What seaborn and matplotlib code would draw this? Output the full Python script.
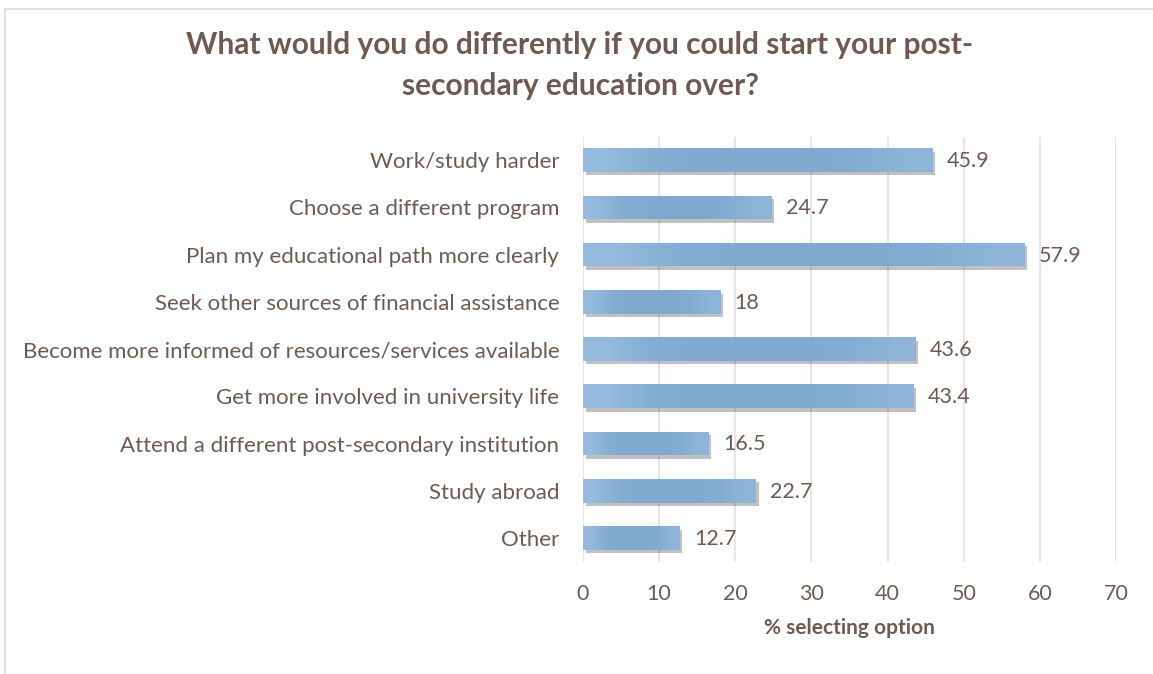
import matplotlib
matplotlib.use("Agg")
import matplotlib.pyplot as plt
import matplotlib.patheffects as pe
from matplotlib.patches import Rectangle
from matplotlib.colors import LinearSegmentedColormap
import seaborn as sns
import pandas as pd
import numpy as np

categories = [
    "Work/study harder",
    "Choose a different program",
    "Plan my educational path more clearly",
    "Seek other sources of financial assistance",
    "Become more informed of resources/services available",
    "Get more involved in university life",
    "Attend a different post-secondary institution",
    "Study abroad",
    "Other",
]
values = [45.9, 24.7, 57.9, 18, 43.6, 43.4, 16.5, 22.7, 12.7]
value_labels = ["45.9", "24.7", "57.9", "18", "43.6", "43.4", "16.5", "22.7", "12.7"]
x_ticks = [0, 10, 20, 30, 40, 50, 60, 70]

title = "What would you do differently if you could start your post-\nsecondary education over?"
xlabel = "% selecting option"

TEXT = "#6e5a52"
BAR = "#82abd2"
GRID = "#e6dedb"

sns.set_theme(style="white")
plt.rcParams["font.family"] = ["Lato", "DejaVu Sans"]

df = pd.DataFrame({"cat": categories, "val": values})

fig = plt.figure(figsize=(11.53, 6.74), dpi=100)
ax = fig.add_axes([0.5056, 0.1668, 0.4625, 0.6306])

sns.barplot(data=df, x="val", y="cat", color=BAR, saturation=1, width=0.5, ax=ax, zorder=3)

# soft horizontal gradient overlay clipped to each bar (lighter at the ends)
grad = np.array([[0.0, 0.75, 0.95, 1.0, 0.95, 0.8, 0.3]])
cmap = LinearSegmentedColormap.from_list("barg", ["#94badd", "#80a9d0"])
for p in ax.patches:
    p.set_edgecolor("none")
    p.set_path_effects([pe.SimplePatchShadow(offset=(2, -2.5), shadow_rgbFace="#333333", alpha=0.3), pe.Normal()])
    x0, y0, w, h = p.get_x(), p.get_y(), p.get_width(), p.get_height()
    im = ax.imshow(grad, cmap=cmap, vmin=0, vmax=1, aspect="auto",
                   extent=(x0, x0 + w, y0 + h, y0), interpolation="bilinear", zorder=3.5)
    im.set_clip_path(p)

ax.set_xlim(0, 70)
ax.set_ylim(8.5, -0.5)
ax.set_xticks(x_ticks)
ax.set_xticklabels([str(t) for t in x_ticks])
ax.xaxis.grid(True, color=GRID, linewidth=1.2, zorder=0)
ax.set_axisbelow(True)
for s in ax.spines.values():
    s.set_visible(False)
ax.tick_params(axis="both", length=0, colors=TEXT, labelsize=15.5)
ax.tick_params(axis="y", labelsize=16)
ax.tick_params(axis="x", pad=16)
ax.tick_params(axis="y", pad=17)
ax.set_ylabel("")
ax.set_xlabel(xlabel, color=TEXT, fontsize=15, fontweight="bold", labelpad=10)

for p, lab in zip(ax.patches, value_labels):
    ax.text(p.get_width() + 1.9, p.get_y() + p.get_height() / 2 + 0.02, lab,
            va="center", ha="left", color=TEXT, fontsize=15.5)

fig.text(0.503, 0.903, title, ha="center", va="center", color=TEXT,
         fontsize=21.5, fontweight="bold", linespacing=1.55)

fig.patches.append(Rectangle((0.004, -0.01), 1.0, 1.0 - 0.003, transform=fig.transFigure,
                             fill=False, edgecolor="#d9d9d9", linewidth=1.2))

fig.savefig("out.png", dpi=100)
